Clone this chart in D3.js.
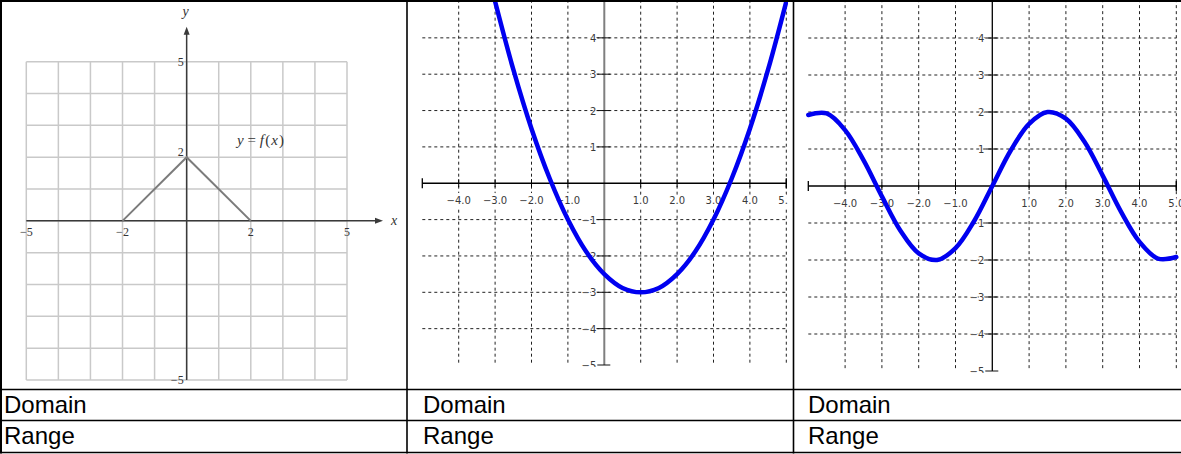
<!DOCTYPE html>
<html><head><meta charset="utf-8">
<script src="https://cdn.jsdelivr.net/npm/d3@7"></script>
<style>body{margin:0;background:#fff} svg{display:block}</style>
</head><body><svg id="c" width="1181" height="454"></svg>
<script>
// ---------- data ----------
const rowLabels = ["Domain", "Range"];
// graph 1: piecewise linear f(x)
const triangleX = [-2, 0, 2];
const triangleY = [0, 2, 0];
const g1GridValues = [-5, -4, -3, -2, -1, 0, 1, 2, 3, 4, 5];
const g1XTickValues = [-5, -2, 2, 5];
const g1XTickLabels = ["−5", "−2", "2", "5"];
const g1YTickValues = [5, 2, -5];
const g1YTickLabels = ["5", "2", "−5"];
// graphs 2 and 3: dashed grid + labels
const xGridValues = [-4, -3, -2, -1, 1, 2, 3, 4, 5];
const xTickLabels = ["−4.0", "−3.0", "−2.0", "−1.0", "1.0", "2.0", "3.0", "4.0", "5.0"];
const yGridValues = [-4, -3, -2, -1, 1, 2, 3, 4];
const yTickValues = [-5, -4, -3, -2, -1, 1, 2, 3, 4];
const yTickLabels = ["−5", "−4", "−3", "−2", "−1", "1", "2", "3", "4"];
// graph 2: parabola
const parabolaX = [-3.0, -2.5, -2.0, -1.5, -1.0, -0.5, 0.0, 0.5, 1.0, 1.5, 2.0, 2.5, 3.0, 3.5, 4.0, 4.5, 5.0];
const parabolaY = [5.0, 3.13, 1.5, 0.13, -1.0, -1.88, -2.5, -2.88, -3.0, -2.88, -2.5, -1.88, -1.0, 0.13, 1.5, 3.13, 5.0];
// graph 3: wave
const waveX = [-5.0, -4.5, -4.0, -3.5, -3.0, -2.5, -2.0, -1.5, -1.0, -0.5, 0.0, 0.5, 1.0, 1.5, 2.0, 2.5, 3.0, 3.5, 4.0, 4.5, 5.0];
const waveY = [1.92, 1.96, 1.51, 0.70, -0.28, -1.2, -1.82, -2.0, -1.68, -0.96, 0.0, 0.96, 1.68, 2.0, 1.82, 1.2, 0.28, -0.70, -1.51, -1.96, -1.92];

// ---------- drawing ----------
const svg = d3.select("#c");
const defs = svg.append("defs");

// ===== Graph 1 =====
const x1 = d3.scaleLinear().domain([-5, 5]).range([26.3, 347]);
const y1 = d3.scaleLinear().domain([-5, 5]).range([380, 61.7]);
const g1 = svg.append("g");
const gridColor = "#c9c9c9";
g1.selectAll("line.v").data(g1GridValues).join("line")
  .attr("x1", d => x1(d)).attr("x2", d => x1(d))
  .attr("y1", y1(-5)).attr("y2", y1(5))
  .attr("stroke", gridColor).attr("stroke-width", 1.5);
g1.selectAll("line.h").data(g1GridValues).join("line")
  .attr("y1", d => y1(d)).attr("y2", d => y1(d))
  .attr("x1", x1(-5)).attr("x2", x1(5))
  .attr("stroke", gridColor).attr("stroke-width", 1.5);
const axisCol = "#3a3a3a";
const xEnd = x1(5) + 36;
g1.append("line").attr("x1", x1(-5)).attr("x2", xEnd - 4).attr("y1", y1(0)).attr("y2", y1(0))
  .attr("stroke", axisCol).attr("stroke-width", 1.5);
g1.append("path").attr("d", `M${xEnd},${y1(0)} L${xEnd - 8},${y1(0) - 3} L${xEnd - 8},${y1(0) + 3} Z`).attr("fill", axisCol);
const yEnd = y1(5) - 35;
g1.append("line").attr("x1", x1(0)).attr("x2", x1(0)).attr("y1", y1(-5)).attr("y2", yEnd + 4)
  .attr("stroke", axisCol).attr("stroke-width", 1.5);
g1.append("path").attr("d", `M${x1(0)},${yEnd} L${x1(0) - 3},${yEnd + 8} L${x1(0) + 3},${yEnd + 8} Z`).attr("fill", axisCol);
g1.append("path").datum(triangleX.map((d, i) => [d, triangleY[i]]))
  .attr("d", d3.line().x(d => x1(d[0])).y(d => y1(d[1])))
  .attr("fill", "none").attr("stroke", "#7c7c7c").attr("stroke-width", 2);
const serif = "'Liberation Serif','DejaVu Serif',serif";
g1.selectAll("text.xt").data(g1XTickValues).join("text")
  .attr("x", d => x1(d)).attr("y", y1(0) + 15)
  .attr("text-anchor", "middle").attr("font-family", serif).attr("font-size", 12).attr("fill", "#333")
  .text((d, i) => g1XTickLabels[i]);
g1.selectAll("text.yt").data(g1YTickValues).join("text")
  .attr("x", x1(0) - 3).attr("y", (d, i) => y1(d) + (d === 2 ? -1 : 4))
  .attr("text-anchor", "end").attr("font-family", serif).attr("font-size", 12).attr("fill", "#333")
  .text((d, i) => g1YTickLabels[i]);
g1.append("text").attr("x", x1(0) - 1).attr("y", 16).attr("text-anchor", "middle")
  .attr("font-family", serif).attr("font-style", "italic").attr("font-size", 14).attr("fill", "#333").text("y");
g1.append("text").attr("x", xEnd + 11).attr("y", y1(0) + 4).attr("text-anchor", "middle")
  .attr("font-family", serif).attr("font-style", "italic").attr("font-size", 14).attr("fill", "#333").text("x");
const lab = g1.append("text").attr("x", 237).attr("y", 145)
  .attr("font-family", serif).attr("font-size", 15).attr("fill", "#333");
lab.append("tspan").attr("font-style", "italic").text("y");
lab.append("tspan").text(" = ");
lab.append("tspan").attr("font-style", "italic").text("f");
lab.append("tspan").attr("dx", 1.5).text("(");
lab.append("tspan").attr("font-style", "italic").attr("dx", 1).text("x");
lab.append("tspan").attr("dx", 1).text(")");

// ===== Graphs 2 & 3 =====
function dashedGraph(id, xr, yr, clip, yAxisColor, yAxisWidth, px, py) {
  const xs = d3.scaleLinear().domain([-5, 5]).range(xr);
  const ys = d3.scaleLinear().domain([-5, 5]).range(yr);
  defs.append("clipPath").attr("id", id).append("rect")
    .attr("x", clip[0]).attr("y", clip[1]).attr("width", clip[2] - clip[0]).attr("height", clip[3] - clip[1]);
  const g = svg.append("g").attr("clip-path", `url(#${id})`);
  const top = ys(5.05);
  g.selectAll("line.v").data(xGridValues).join("line")
    .attr("x1", d => xs(d)).attr("x2", d => xs(d)).attr("y1", top).attr("y2", ys(-5))
    .attr("stroke", "#222").attr("stroke-width", 1).attr("stroke-dasharray", "3,3");
  g.selectAll("line.h").data(yGridValues).join("line")
    .attr("y1", d => ys(d)).attr("y2", d => ys(d)).attr("x1", xs(-5)).attr("x2", xs(5))
    .attr("stroke", "#222").attr("stroke-width", 1).attr("stroke-dasharray", "3,3");
  g.append("line").attr("x1", xs(0)).attr("x2", xs(0)).attr("y1", top).attr("y2", ys(-5))
    .attr("stroke", yAxisColor).attr("stroke-width", yAxisWidth);
  g.selectAll("line.yt").data(yTickValues).join("line")
    .attr("x1", xs(0) - 7).attr("x2", xs(0) + 6).attr("y1", d => ys(d)).attr("y2", d => ys(d))
    .attr("stroke", "#111").attr("stroke-width", 1);
  g.append("line").attr("x1", xs(-5)).attr("x2", xs(5)).attr("y1", ys(0)).attr("y2", ys(0))
    .attr("stroke", "#000").attr("stroke-width", 1.3);
  g.selectAll("line.xe").data([-5, 5]).join("line")
    .attr("x1", d => xs(d)).attr("x2", d => xs(d)).attr("y1", ys(0) - 5).attr("y2", ys(0) + 5)
    .attr("stroke", "#000").attr("stroke-width", 1.3);
  g.selectAll("line.xt").data(xGridValues).join("line")
    .attr("x1", d => xs(d)).attr("x2", d => xs(d)).attr("y1", ys(0) - 4).attr("y2", ys(0) + 4)
    .attr("stroke", "#000").attr("stroke-width", 1);
  const sans = "'DejaVu Sans',Verdana,sans-serif";
  g.selectAll("text.xl").data(xGridValues).join("text")
    .attr("x", d => xs(d)).attr("y", ys(0) + 21).attr("text-anchor", "middle")
    .attr("font-family", sans).attr("font-size", 10).attr("fill", "#3a3a3a")
    .attr("stroke", "#fff").attr("stroke-width", 6).attr("stroke-linejoin", "round").attr("paint-order", "stroke")
    .text((d, i) => xTickLabels[i]);
  g.selectAll("text.yl").data(yTickValues).join("text")
    .attr("x", xs(0) - 8).attr("y", d => ys(d) + 4).attr("text-anchor", "end")
    .attr("font-family", sans).attr("font-size", 10).attr("fill", "#3a3a3a")
    .attr("stroke", "#fff").attr("stroke-width", 2).attr("paint-order", "stroke")
    .text((d, i) => yTickLabels[i]);
  g.append("path").datum(px.map((d, i) => [d, py[i]]))
    .attr("d", d3.line().x(d => xs(d[0])).y(d => ys(d[1])).curve(d3.curveCatmullRom.alpha(0.5)))
    .attr("fill", "none").attr("stroke", "#0000f0").attr("stroke-width", 4.5).attr("stroke-linecap", "round");
}
dashedGraph("clip2", [422.3, 786.3], [365, 1.5], [409, 0, 788, 367], "#7f7f7f", 2, parabolaX, parabolaY);
dashedGraph("clip3", [808.3, 1176.3], [371, 1], [795, 0, 1181, 373], "#000", 1.3, waveX, waveY);

// ===== Table =====
const tbl = svg.append("g").attr("stroke", "#000");
[1, 389.5, 420.5, 452.5].forEach(y => tbl.append("line").attr("x1", 0).attr("x2", 1181).attr("y1", y).attr("y2", y).attr("stroke-width", y === 1 ? 2 : 1.6));
[1, 407, 793.5].forEach(x => tbl.append("line").attr("x1", x).attr("x2", x).attr("y1", 0).attr("y2", 453.5).attr("stroke-width", x === 1 ? 2 : 1.6));
const cellX = [4, 423, 808];
const rowBase = [413, 444];
rowLabels.forEach((t, r) => {
  cellX.forEach(cx => {
    svg.append("text").attr("x", cx).attr("y", rowBase[r])
      .attr("font-family", "'Liberation Sans',Arial,sans-serif").attr("font-size", 24).attr("fill", "#000").text(t);
  });
});
</script></body></html>
